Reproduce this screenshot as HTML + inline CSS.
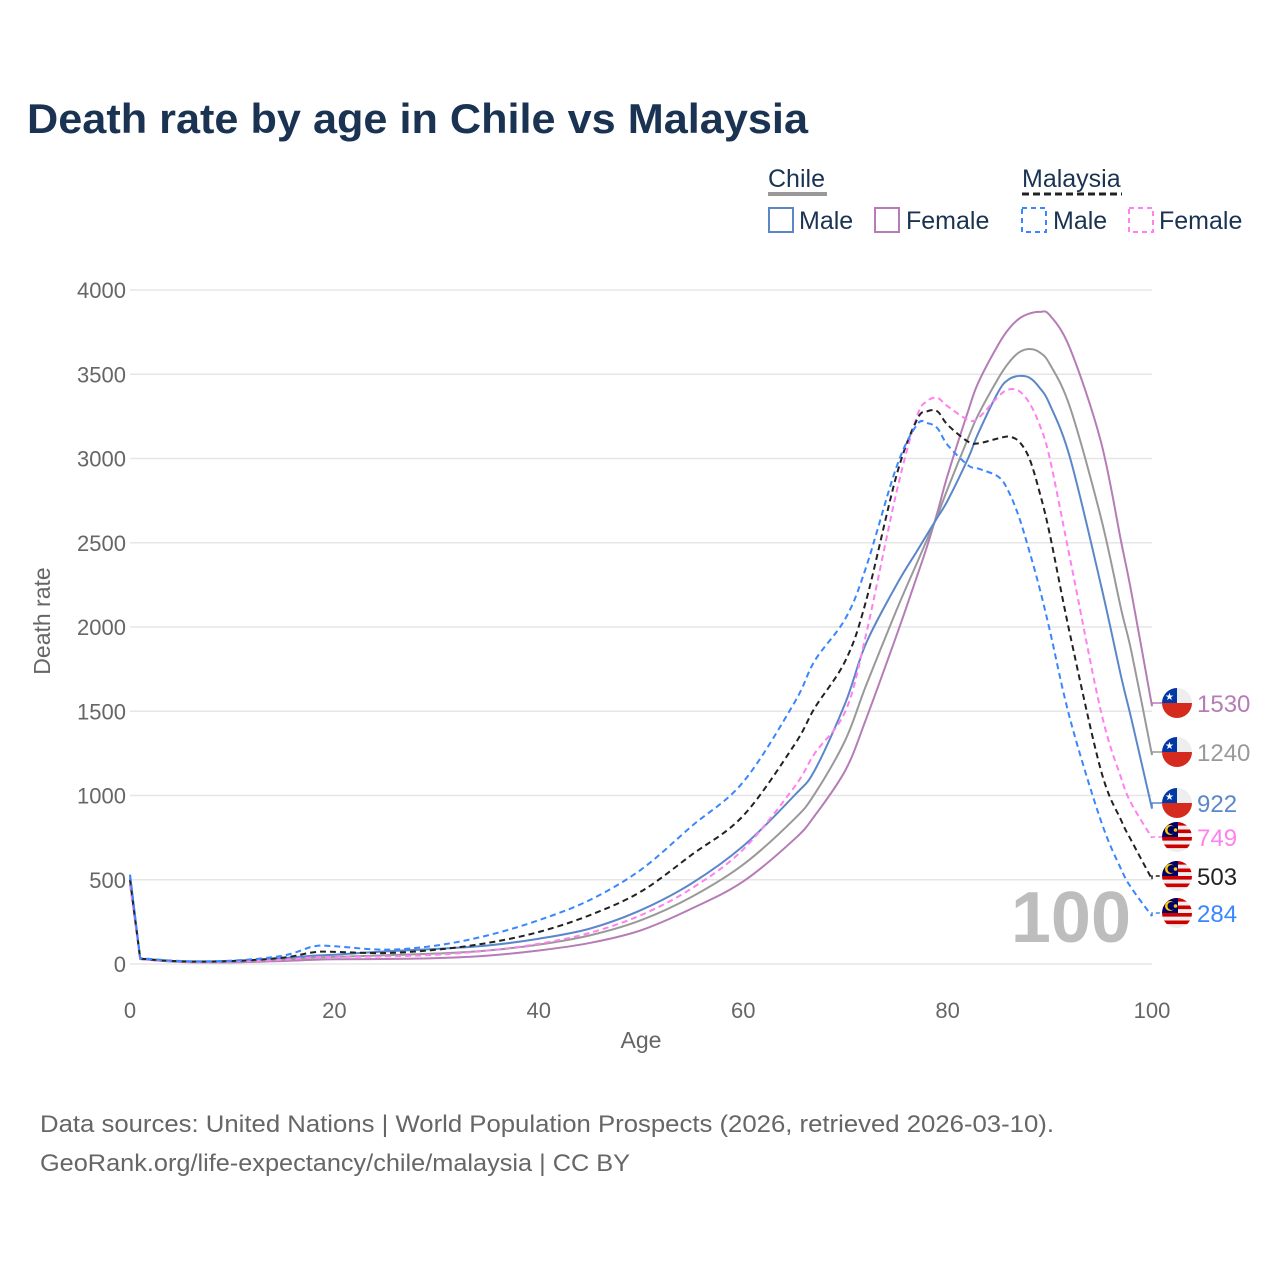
<!DOCTYPE html>
<html><head><meta charset="utf-8"><style>
body{margin:0;background:#fff;}
svg{display:block;font-family:"Liberation Sans",sans-serif;}
</style></head><body>
<svg id="chart" width="1280" height="1280" viewBox="0 0 1280 1280">
<text x="27" y="133" font-size="42" font-weight="bold" fill="#1a3352" textLength="781" lengthAdjust="spacingAndGlyphs">Death rate by age in Chile vs Malaysia</text>
<g font-size="25" fill="#1a3352">
<text x="768" y="187">Chile</text>
<rect x="768" y="192" width="59" height="4" fill="#999"/>
<text x="1022" y="187">Malaysia</text>
<line x1="1022" y1="194" x2="1122" y2="194" stroke="#222" stroke-width="3" stroke-dasharray="7,4"/>
<g><rect x="769" y="208" width="24" height="24" fill="none" stroke="#5b87c9" stroke-width="2"/><text x="799" y="229">Male</text></g>
<g><rect x="875" y="208" width="24" height="24" fill="none" stroke="#b57cb5" stroke-width="2"/><text x="906" y="229">Female</text></g>
<g><rect x="1022" y="208" width="24" height="24" fill="none" stroke="#3a86ff" stroke-width="2" stroke-dasharray="5,4"/><text x="1053" y="229">Male</text></g>
<g><rect x="1129" y="208" width="24" height="24" fill="none" stroke="#ff80ee" stroke-width="2" stroke-dasharray="5,4"/><text x="1159" y="229">Female</text></g>
</g>
<g id="grid"></g>
<g id="series"></g>
<g id="ends"></g>
<text x="1131" y="942" text-anchor="end" font-size="72" font-weight="bold" fill="#bdbdbd">100</text>
<text x="641" y="1048" text-anchor="middle" font-size="23" fill="#666">Age</text>
<text transform="translate(50,621) rotate(-90)" text-anchor="middle" font-size="23" fill="#666">Death rate</text>
<text x="40" y="1132" font-size="24" fill="#666" textLength="1014" lengthAdjust="spacingAndGlyphs">Data sources: United Nations | World Population Prospects (2026, retrieved 2026-03-10).</text>
<text x="40" y="1171" font-size="24" fill="#666" textLength="590" lengthAdjust="spacingAndGlyphs">GeoRank.org/life-expectancy/chile/malaysia | CC BY</text>
</svg>
<script>
const ages=[0,1,5,10,15,18,20,25,30,35,40,45,50,55,60,65,67,70,72,75,77,78,79,80,82,83,85,86,87,88,89,90,92,95,97,98,100];
const chileMale=[530,30,15,15,35,50,55,75,90,110,150,210,320,480,700,1000,1150,1550,1900,2250,2450,2550,2650,2750,3000,3150,3400,3470,3490,3480,3420,3320,3000,2250,1700,1450,922];
const chileFemale=[500,30,12,10,18,25,28,30,35,50,80,125,200,330,490,740,880,1150,1450,1950,2300,2480,2680,2900,3280,3450,3680,3770,3830,3860,3870,3850,3650,3100,2500,2200,1530];
const chileTotal=[510,30,14,12,25,38,42,52,62,80,115,170,260,400,590,860,1010,1330,1650,2100,2380,2520,2660,2820,3120,3260,3480,3570,3630,3650,3630,3560,3300,2650,2100,1850,1240];
const malaysiaMale=[530,35,18,20,50,105,105,85,110,170,260,380,560,820,1080,1550,1800,2050,2350,2950,3200,3210,3180,3080,2960,2940,2890,2800,2650,2450,2230,1980,1450,850,560,450,284];
const malaysiaFemale=[470,30,15,15,25,40,42,45,55,80,120,185,290,450,680,1050,1250,1500,1950,2800,3250,3340,3360,3310,3230,3240,3370,3410,3400,3330,3200,3000,2400,1500,1100,950,749];
const malaysiaTotal=[500,32,16,18,38,70,72,65,85,125,190,290,430,650,880,1300,1520,1800,2150,2900,3230,3280,3280,3200,3100,3090,3120,3130,3100,3000,2800,2550,1950,1150,850,730,503];
const xTicks=[0,20,40,60,80,100];
const yTicks=[0,500,1000,1500,2000,2500,3000,3500,4000];
const endLabels=[1530,1240,922,749,503,284];
const NS="http://www.w3.org/2000/svg";
const X=a=>130+a*10.22;
const Y=v=>964-v*0.1685;
function mk(tag,attrs,parent){const e=document.createElementNS(NS,tag);for(const k in attrs)e.setAttribute(k,attrs[k]);parent.appendChild(e);return e;}
const grid=document.getElementById('grid');
yTicks.forEach(t=>{
 const l=mk('line',{x1:130,x2:1152,y1:Y(t),y2:Y(t),stroke:'#e6e6e6','stroke-width':1.5},grid);
 
 
 const tx=mk('text',{x:126,y:Y(t)+8,'text-anchor':'end','font-size':22,fill:'#666'},grid);
 tx.textContent=t;
 
 
});
xTicks.forEach(t=>{
 const tx=mk('text',{x:X(t),y:1018,'text-anchor':'middle','font-size':22,fill:'#666'},grid);
 tx.textContent=t;
 
 
});
function pathD(vals){
 const p=ages.map((a,i)=>[X(a),Y(vals[i])]);
 let d='M'+p[0][0]+','+p[0][1]+' L'+p[1][0]+','+p[1][1];
 for(let i=1;i<p.length-1;i++){
  const p0=p[i-1],p1=p[i],p2=p[i+1],p3=p[Math.min(i+2,p.length-1)];
  const t=i===1?0:1/6;
  const c1=[p1[0]+(p2[0]-p0[0])*t,p1[1]+(p2[1]-p0[1])*t];
  const c2=[p2[0]-(p3[0]-p1[0])/6,p2[1]-(p3[1]-p1[1])/6];
  d+=' C'+c1[0]+','+c1[1]+' '+c2[0]+','+c2[1]+' '+p2[0]+','+p2[1];
 }
 return d;
}
const series=[
 {name:'line-chile-female',v:chileFemale,c:'#b57cb5',dash:null,ly:703,flag:'cl',lab:0},
 {name:'line-chile-total',v:chileTotal,c:'#999999',dash:null,ly:752,flag:'cl',lab:1},
 {name:'line-chile-male',v:chileMale,c:'#5b87c9',dash:null,ly:803,flag:'cl',lab:2},
 {name:'line-malaysia-female',v:malaysiaFemale,c:'#ff80ee',dash:'6,4',ly:837,flag:'my',lab:3},
 {name:'line-malaysia-total',v:malaysiaTotal,c:'#222222',dash:'6,4',ly:876,flag:'my',lab:4},
 {name:'line-malaysia-male',v:malaysiaMale,c:'#3a86ff',dash:'6,4',ly:913,flag:'my',lab:5}
];
const sg=document.getElementById('series'),eg=document.getElementById('ends');
const defs=mk('defs',{},sg);
series.forEach((s,k)=>{
 const attrs={d:pathD(s.v),fill:'none',stroke:s.c,'stroke-width':2};
 if(s.dash)attrs['stroke-dasharray']=s.dash;
 const p=mk('path',attrs,sg);
 
 
 const endY=Y(s.v[s.v.length-1]);
 const la={d:'M1152,'+endY+' L1152,'+s.ly+' L1162,'+s.ly,fill:'none',stroke:s.c,'stroke-width':1.5};
 if(s.dash)la['stroke-dasharray']='4,3';
 mk('path',la,eg);
 const g=mk('g',{},eg);
 
 
 const cx=1177,cy=s.ly,r=15;
 const cp=mk('clipPath',{id:'cp'+k},defs);mk('circle',{cx:cx,cy:cy,r:r},cp);
 const fg=mk('g',{'clip-path':'url(#cp'+k+')'},g);
 if(s.flag==='cl'){
  mk('rect',{x:cx-r,y:cy-r,width:2*r,height:r,fill:'#eee'},fg);
  mk('rect',{x:cx-r,y:cy,width:2*r,height:r,fill:'#d52b1e'},fg);
  mk('rect',{x:cx-r,y:cy-r,width:r,height:r,fill:'#0039a6'},fg);
  const st=mk('text',{x:cx-r/2,y:cy-3,'text-anchor':'middle','font-size':10,fill:'#fff'},fg);st.textContent='★';
 }else{
  for(let i=0;i<8;i++)mk('rect',{x:cx-r,y:cy-r+i*30/8,width:2*r,height:30/8,fill:i%2?'#eee':'#cc0001'},fg);
  mk('rect',{x:cx-r,y:cy-r,width:r+1,height:r,fill:'#010066'},fg);
  mk('circle',{cx:cx-7,cy:cy-7,r:5,fill:'#fc0'},fg);
  mk('circle',{cx:cx-5.5,cy:cy-7,r:4,fill:'#010066'},fg);
  mk('circle',{cx:cx-1.5,cy:cy-7,r:1.8,fill:'#fc0'},fg);
 }
 const t=mk('text',{x:1197,y:s.ly+9,'font-size':24,fill:s.c},eg);
 t.textContent=endLabels[s.lab];
 
 
});
</script>
</body></html>
